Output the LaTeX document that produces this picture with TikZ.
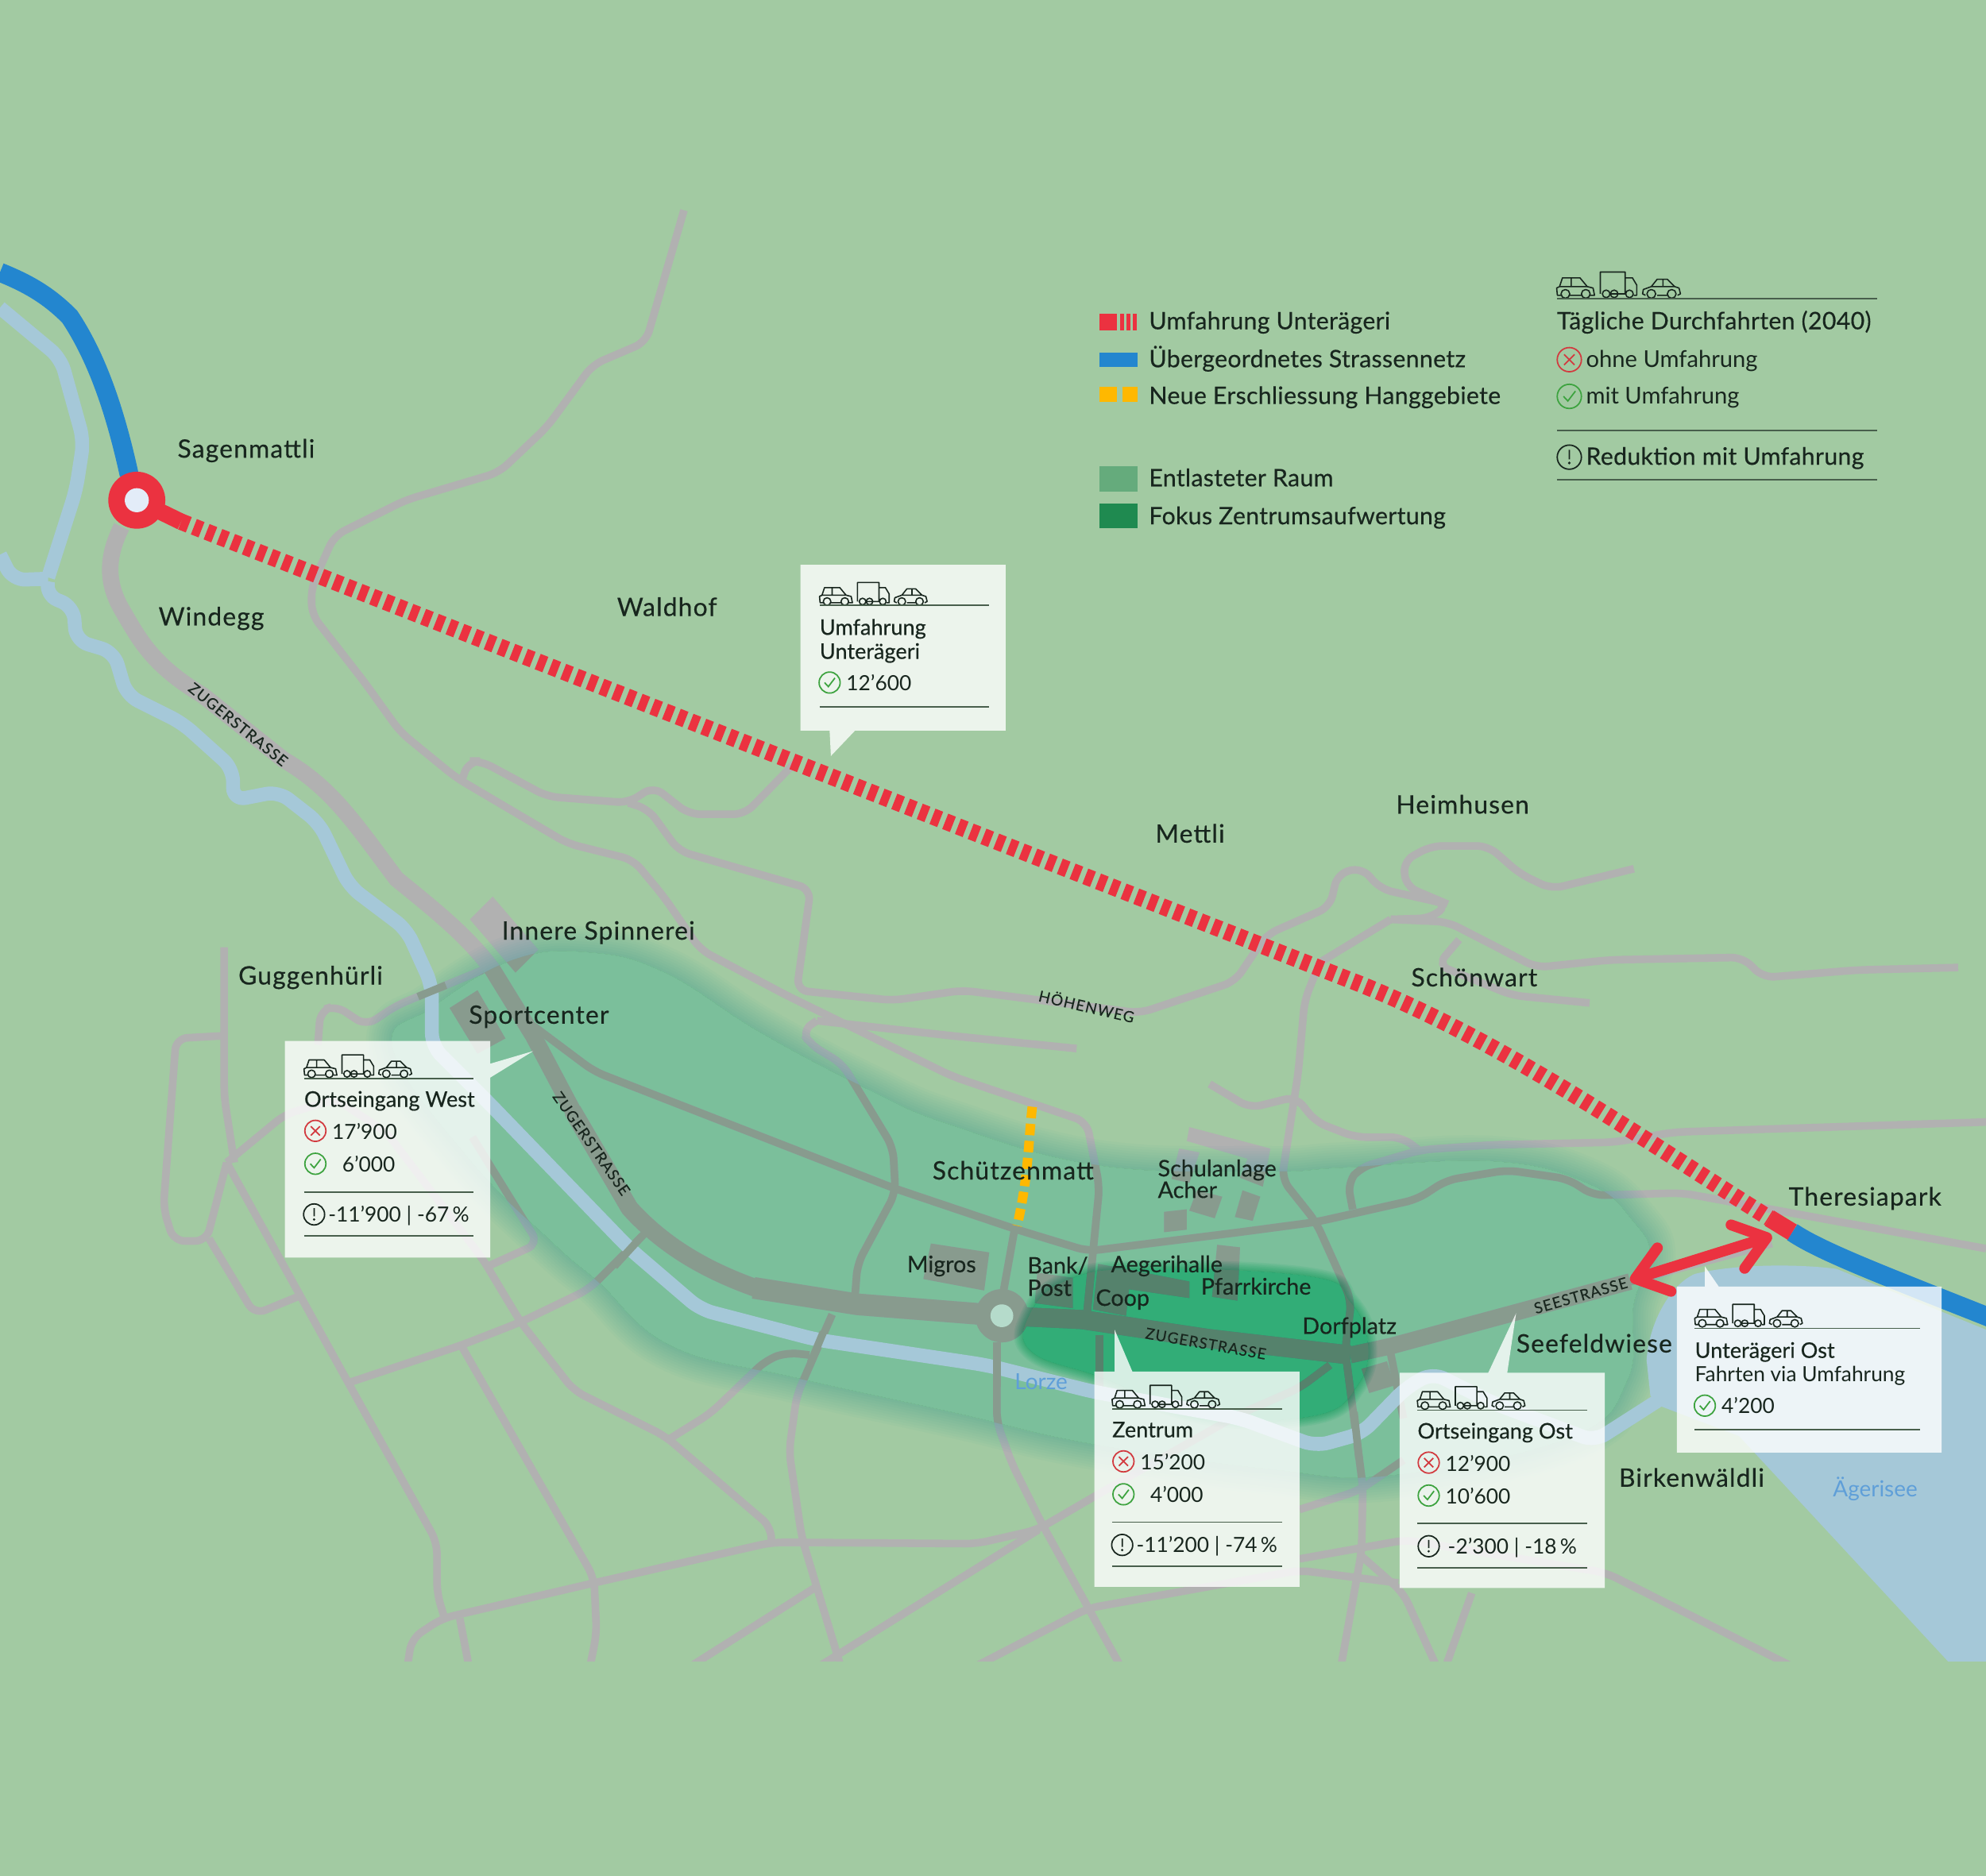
\documentclass[tikz,border=0pt]{standalone}
\usepackage{fontspec}
\setmainfont{Lato}
\newfontfamily\labelfont[RawFeature={embolden=0.35},LetterSpace=3.5]{Lato}
\newfontfamily\placefont[RawFeature={embolden=0.35}]{Lato}
\newfontfamily\legendfont[RawFeature={embolden=0.35},LetterSpace=1]{Lato}
\newfontfamily\streetfont[RawFeature={embolden=0.2},LetterSpace=6]{Lato}
\usetikzlibrary{calc,arrows.meta}
\definecolor{bggreen}{HTML}{A2CAA2}
\definecolor{roadgray}{HTML}{B1B1B1}
\definecolor{bridgegray}{HTML}{889B8E}
\definecolor{focusgray}{HTML}{55826C}
\definecolor{waterblue}{HTML}{A5C8D8}
\definecolor{redroad}{HTML}{EB3240}
\definecolor{blueroad}{HTML}{2386CF}
\definecolor{yellowroad}{HTML}{FFB800}
\definecolor{tintrelief}{HTML}{C3F2F4}
\definecolor{tintfocus}{HTML}{69E7C5}
\definecolor{swatchrelief}{HTML}{65AB7C}
\definecolor{swatchfocus}{HTML}{1F8A50}
\definecolor{roundinner}{HTML}{B5DBCB}
\definecolor{sageninner}{HTML}{E3ECF8}
\definecolor{inktext}{HTML}{18261E}
\definecolor{markred}{HTML}{D23A3F}
\definecolor{markgreen}{HTML}{3DA33F}
\definecolor{waterlabel}{HTML}{5F9FD8}
\tikzset{
	roadthin/.style={draw=roadgray, line width=6pt, rounded corners=9pt},
	roadmain/.style={draw=roadgray, line join=round},
	bridge/.style={draw=bridgegray, line width=6pt},
	building/.style={fill=roadgray},
	river/.style={draw=waterblue, line width=11pt, rounded corners=10pt, line join=round},
	maplabel/.style={anchor=west, inner sep=0pt, text height=18pt, text depth=3.2pt, text=inktext, font=\labelfont\fontsize{20}{20}\selectfont},
	smalllabel/.style={anchor=west, inner sep=0pt, text height=16.2pt, text depth=2.9pt, text=inktext, font=\placefont\fontsize{18}{18}\selectfont},
	legendlabel/.style={anchor=west, inner sep=0pt, text height=17pt, text depth=3pt, text=inktext, font=\legendfont\fontsize{19}{19}\selectfont},
	legendtext/.style={anchor=west, inner sep=0pt, text height=16.5pt, text depth=2.9pt, text=inktext, font=\fontsize{18.3}{19}\selectfont},
	streetlabel/.style={inner sep=0pt, text=inktext, font=\streetfont\fontsize{12}{12}\selectfont},
	waterlab/.style={anchor=west, inner sep=0pt, text height=15.8pt, text depth=2.8pt, text=waterlabel, font=\fontsize{17.5}{18}\selectfont},
	cardbox/.style={fill=white, fill opacity=0.8},
	cardrule/.style={draw=inktext!65!bggreen, line width=1.1pt},
	cardtitle/.style={anchor=west, inner sep=0pt, text height=15.3pt, text depth=2.7pt, text=inktext, font=\placefont\fontsize{17}{18}\selectfont},
	cardtext/.style={anchor=west, inner sep=0pt, text height=14.9pt, text depth=2.7pt, text=inktext, font=\fontsize{16.5}{18}\selectfont},
	vehicles/.pic={
		\draw[inktext, line width=1pt, line join=round, fill=none]
			(3,-2)--(0.5,-2)--(0,-7)--(2,-8)--(4,-14)--(16,-14)--(21,-8)--(25,-7)--(26,-2)--(23,-2)
			(9,-2)--(17,-2) (2,-8)--(21,-8) (10,-14)--(10,-8)
			(6,-3) circle (3) (20,-3) circle (3)
			(30,-3)--(30,-18)--(47,-18)--(47,-3) (47,-14)--(52,-14)--(55,-9)--(55,-2)--(53,-2)
			(37,-3)--(47,-3)
			(34,-3) circle (2.6) (39.5,-3) circle (2.6) (50,-3) circle (2.6)
			(61,-2)--(59,-3)--(59.5,-6)--(65,-8)--(69,-13)--(76,-13)--(81,-8)--(84,-7)--(85,-3)--(83,-2)
			(69,-2)--(76,-2) (65,-8)--(81,-8) (73,-13)--(73,-8)
			(65,-3) circle (3) (79,-3) circle (3);
	},
	crossmark/.pic={
		\draw[markred, line width=1.1pt] (0,0) circle (8.3) (-3.6,-3.6)--(3.6,3.6) (-3.6,3.6)--(3.6,-3.6);
	},
	checkmark/.pic={
		\draw[markgreen, line width=1.1pt] (0,0) circle (8.3);
		\draw[markgreen, line width=1.1pt] (-4,0)--(-1,3.2)--(4.2,-3.6);
	},
	warnmark/.pic={
		\draw[inktext, line width=1.1pt] (0,0) circle (8.3) (0,-5)--(0,1.5);
		\fill[inktext] (0,4) circle (1);
	}
}
\def\reliefpath{plot[smooth cycle, tension=0.7] coordinates {(310,828) (342,795) (405,758) (465,752) (525,768) (600,815) (685,860) (750,888) (866,920) (1000,925) (1060,922) (1180,917) (1255,935) (1290,965) (1303,992) (1290,1030) (1285,1090) (1240,1135) (1100,1165) (1000,1160) (860,1140) (755,1116) (628,1088) (530,1063) (472,1012) (437,982) (370,915)}}
\def\focuspath{plot[smooth cycle, tension=0.7] coordinates {(812,1040) (840,1012) (900,1002) (1035,1008) (1066,1028) (1080,1060) (1072,1094) (1038,1118) (950,1118) (870,1088) (815,1068)}}
\newcommand{\maproads}{
	\draw[roadthin] (540,166)--(510,270)--(468,288)--(432,337)--(394,373)--(320,395)--(264,423)--(246,463)--(246,485)--(288,539)--(316,578)--(360,614)--(448,666)--(500,679)--(524,708)--(553,750)--(621,786)--(752,850)--(858,886)--(868,937)--(858,1039);
	\draw[roadthin] (364,618)--(370,601)--(380,601)--(432,629)--(496,634)--(516,621)--(544,643)--(588,643)--(627,603);
	\draw[roadthin] (496,634)--(512,639)--(536,672)--(640,702)--(629,782)--(705,790)--(760,782)--(900,800)--(975,775)--(1000,738)--(1050,716)--(1056,690)--(1075,685)--(1090,702)--(1143,714)--(1130,725)--(1098,726);
	\draw[roadthin] (1290,686)--(1225,702)--(1200,690)--(1175,668)--(1130,668)--(1108,680)--(1110,700)--(1143,714);
	\draw[roadthin] (1098,726)--(1143,728)--(1213,764)--(1271,758)--(1376,756)--(1392,772)--(1466,766)--(1546,764);
	\draw[roadthin] (1152,742)--(1135,762)--(1194,786)--(1255,792);
	\draw[roadthin] (645,806)--(633,814)--(640,825)--(665,840)--(705,906)--(707,942)--(677,998)--(675,1024);
	\draw[roadthin] (645,806)--(752,818)--(850,828);
	\draw[roadthin] (421,810)--(469,846)--(705,938)--(803,971)--(859,988)--(979,973)--(1039,965)--(1119,947)--(1142,932)--(1190,924)--(1238,931)--(1258,944)--(1328,942)--(1415,958)--(1568,986);
	\draw[roadthin] (1068,955)--(1064,934)--(1074,922)--(1122,908)--(1179,904)--(1274,902)--(1322,894)--(1568,886);
	\draw[roadthin] (955,856)--(987,875)--(1023,866)--(1039,886)--(1070,898)--(1107,898)--(1120,908);
	\draw[roadthin] (1042,760)--(1030,790)--(1025,847)--(1012,931)--(1039,965)--(1067,1027)--(1062,1066)--(1076,1174)--(1075,1225)--(1058,1320);
	\draw[roadthin] (1042,760)--(1098,726);
	\draw[roadthin] (801,971)--(792,1021);
	\draw[roadthin] (177,748)--(177,866)--(185,918);
	\draw[roadthin] (175,818)--(139,820)--(129,954)--(137,980)--(163,980)--(179,918);
	\draw[roadthin] (165,978)--(201,1038)--(235,1024);
	\draw[roadthin] (179,918)--(275,1092)--(345,1218)--(345,1258)--(351,1278);
	\draw[roadthin] (179,918)--(225,880)--(265,868)--(305,894)--(381,994)--(411,1044)--(453,1098)--(525,1134)--(609,1206)--(609,1218);
	\draw[roadthin] (373,898)--(425,982)--(385,1000);
	\draw[roadthin] (275,1092)--(365,1062)--(411,1044)--(465,1018)--(511,972);
	\draw[roadthin] (365,1064)--(469,1246)--(471,1290)--(465,1320);
	\draw[roadthin] (321,1320)--(325,1294)--(349,1278)--(469,1250)--(609,1218)--(633,1218)--(771,1219)--(819,1208)--(867,1180)--(978,1117)--(1026,1096)--(1050,1078);
	\draw[roadthin] (363,1278)--(371,1320);
	\draw[roadthin] (529,1136)--(561,1116)--(605,1074)--(621,1068)--(639,1070);
	\draw[roadthin] (657,1038)--(629,1102)--(623,1146)--(633,1214)--(665,1320);
	\draw[roadthin] (643,1254)--(545,1316);
	\draw[roadthin] (640,1320)--(820,1208);
	\draw[roadthin] (787,1060)--(787,1123)--(799,1156)--(823,1204)--(887,1320);
	\draw[roadthin] (770,1316)--(859,1270)--(1026,1240)--(1104,1250);
	\draw[roadthin] (1074,1228)--(1108,1258)--(1136,1320);
	\draw[roadthin] (1162,1258)--(1140,1320);
	\draw[roadthin] (1026,1192)--(1073,1177)--(1108,1153);
	\draw[roadthin] (1026,1231)--(1110,1216)--(1268,1242)--(1415,1316);
	\draw[roadthin] (868,1054)--(868,1095);
	\draw[roadthin] (251,825)--(253,798)--(265,794)--(289,810)--(313,794)--(381,766);
	\draw[roadthin] (1098,1069)--(1108,1120);
	% main road
	\draw[roadmain, line width=13pt] (96,416) .. controls (84,440) and (84,460) .. (96,481) .. controls (110,505) and (120,525) .. (160,549) -- (224,600) .. controls (262,622) and (280,650) .. (313,694) .. controls (345,720) and (370,740) .. (389,766) -- (421,818) -- (457,886);
	\draw[roadmain, line width=14pt] (452,877) -- (497,954) .. controls (525,985) and (560,1005) .. (605,1020);
	\draw[roadmain, line width=17pt] (595,1017) -- (677,1030) -- (791,1039);
	\draw[roadmain, line width=15pt] (791,1039) -- (854,1042) -- (954,1057) -- (1066,1070);
	\draw[roadmain, line width=13pt] (1066,1070) -- (1098,1063) -- (1287,1012);
	\draw[roadmain, line width=6pt] (1280,1014) -- (1399,982);
	\fill[roadgray] (791,1039) circle (21);
	% buildings
	\fill[building] (735,982)--(781,989)--(777,1019)--(729,1010)--cycle;
	\fill[building] (819,1005)--(847,1009)--(847,1033)--(817,1029)--cycle;
	\fill[building] (867,998)--(893,1003)--(889,1039)--(863,1034)--cycle;
	\fill[building] (893,1003)--(939,1012)--(939,1025)--(891,1018)--cycle;
	\fill[building] (961,983)--(979,985)--(977,1027)--(957,1024)--cycle;
	\fill[building] (939,890)--(1003,907)--(997,937)--(979,930)--(985,915)--(937,901)--cycle;
	\fill[building] (931,907)--(947,910)--(939,934)--(925,931)--cycle;
	\fill[building] (945,940)--(965,945)--(959,962)--(939,956)--cycle;
	\fill[building] (981,940)--(995,945)--(989,964)--(975,961)--cycle;
	\fill[building] (919,957)--(937,955)--(937,971)--(919,973)--cycle;
	\fill[building] (1075,1081)--(1095,1075)--(1101,1094)--(1081,1100)--cycle;
	\fill[building] (389,708)--(425,750)--(407,768)--(371,726)--cycle;
	\fill[building] (377,782)--(399,820)--(377,832)--(355,796)--cycle;
}
\begin{document}
\begin{tikzpicture}[x=1pt, y=-1pt]
	\useasboundingbox (0,0) rectangle (1568,1481.4);
	\fill[bggreen] (0,0) rectangle (1568,1481.4);

	\begin{scope}
	\clip (0,0) rectangle (1568,1312);
	\maproads
	% relief areas
	\begin{scope}[even odd rule]
		\clip (-10,-10) rectangle (1600,1500) \reliefpath;
		\foreach \w in {40,36,...,4}
			\draw[tintrelief, opacity=0.11, blend mode=multiply, line width=\w pt, line join=round] \reliefpath;
	\end{scope}
	\fill[tintrelief, blend mode=multiply] \reliefpath;
	\begin{scope}
		\clip \reliefpath;
		\colorlet{roadgray}{bridgegray}
		\maproads
	\end{scope}
	\begin{scope}[even odd rule]
		\clip (-10,-10) rectangle (1600,1500) \focuspath;
		\foreach \w in {14,12,...,2}
			\draw[tintfocus, opacity=0.15, blend mode=multiply, line width=\w pt, line join=round] \focuspath;
	\end{scope}
	\fill[tintfocus, blend mode=multiply] \focuspath;
	\begin{scope}
		\clip \focuspath;
		\colorlet{roadgray}{focusgray}
		\maproads
	\end{scope}
	% water
	\fill[waterblue] (1300,1074) .. controls (1302,1045) and (1318,1015) .. (1338,1006) .. controls (1370,998) and (1420,998) .. (1450,1002) -- (1568,1050) -- (1568,1312) -- (1538,1312) -- (1373,1134) -- (1310,1110) -- (1303,1102) -- cycle;
	\draw[river] (0,243)--(48,283)--(66,348)--(60,387)--(38,456);
	\draw[river] (0,438)--(10,458)--(38,457);
	\draw[river] (38,459)--(36,470)--(58,479)--(60,506)--(90,515)--(100,549)--(144,571)--(184,607)--(184,632)--(220,625)--(252,650)--(276,700)--(321,734)--(341,778)--(341,826)--(385,870)--(497,986)--(553,1034)--(645,1058)--(779,1078)--(863,1099)--(979,1120)--(1039,1142)--(1075,1132)--(1110,1096)--(1131,1084)--(1179,1108)--(1259,1138)--(1309,1106);
	% roads on bridges
	\draw[bridge] (507,976)--(485,1000);
	\draw[bridge] (650,1052)--(640,1076);
	\draw[bridge] (787,1060)--(787,1095);
	\draw[bridge] (1069,1115)--(1073,1152);
	\draw[bridge] (330,787)--(352,778);
	\fill[roundinner] (791,1039) circle (9);
	% main routes
	\coordinate (sagen) at (108,395);
	\coordinate (redstart) at (143,412);
	\coordinate (redend) at (1397,962);
	\coordinate (redstub) at (1415,973);
	\draw[blueroad, line width=15pt] (0,215) .. controls (25,225) and (40,235) .. (55,250) .. controls (75,280) and (90,320) .. (102,375);
	\draw[blueroad, line width=15pt] (redstub) .. controls (1440,990) and (1500,1012) .. (1600,1052);
	\draw[redroad, line width=13pt, dash pattern=on 6.5pt off 4.3pt] (redstart) -- (1066,774) .. controls (1180,818) and (1295,898) .. (redend);
	\draw[redroad, line width=13pt] (sagen) -- (redstart);
	\draw[redroad, line width=14pt] (redend) -- (redstub);
	\fill[redroad] (sagen) circle (22.5);
	\fill[sageninner] (sagen) circle (9.5);
	\draw[yellowroad, line width=7.5pt, dash pattern=on 9pt off 4.5pt] (815,874) .. controls (812,900) and (812,930) .. (803,968);
	\coordinate (arrowleft) at (1287,1011);
	\coordinate (arrowright) at (1399,976);
	\draw[{Straight Barb[length=24pt,width=36pt,round]}-{Straight Barb[length=24pt,width=36pt,round]}, redroad, line width=8.5pt, line cap=round] (arrowleft) -- (arrowright);
	\end{scope}

	% map labels
	\foreach \nm/\px/\py/\txt in {a/140/354/Sagenmattli, b/125/486.5/Windegg, c/487/479/Waldhof, d/1102/635/Heimhusen, e/912/658/Mettli, f/1114/771.5/Schönwart, g/396/734.6/Innere Spinnerei, h/188/770/Guggenhürli, i/370/801/Sportcenter, j/736/924/Schützenmatt, k/1197/1060.6/Seefeldwiese, l/1278/1166.6/Birkenwäldli, m/1412/944.6/Theresiapark}
		\node[maplabel] (lab\nm) at (\px,\py) {\txt};
	\foreach \nm/\px/\py/\txt in {a/914/922.3/Schulanlage, b/914/939.3/Acher, c/716/998/Migros, d/811/999/{Bank/}, e/811/1016.7/Post, f/877/998/Aegerihalle, g/865/1024.5/Coop, h/948/1015.6/Pfarrkirche, i/1028/1046.7/Dorfplatz}
		\node[smalllabel] (place\nm) at (\px,\py) {\txt};
	\node[streetlabel, rotate=-39] (zuger1) at (188,572) {ZUGERSTRASSE};
	\node[streetlabel, rotate=-55] (zuger2) at (467,903) {ZUGERSTRASSE};
	\node[streetlabel, rotate=-10] (zuger3) at (952,1061) {ZUGERSTRASSE};
	\node[streetlabel, rotate=16] (seestr) at (1248,1023) {SEESTRASSE};
	\node[streetlabel, rotate=-13] (hoehen) at (858,794) {HÖHENWEG};
	\node[waterlab] (lorze) at (801,1090.5) {Lorze};
	\node[waterlab] (aegerisee) at (1447,1175.5) {Ägerisee};

	% legend
	\fill[redroad] (868,248) rectangle (882,261);
	\foreach \px in {884.5,889.5,894.5}
		\fill[redroad] (\px,248) rectangle (\px+3,261);
	\fill[blueroad] (868,278.5) rectangle (898,290);
	\fill[yellowroad] (868,305.5) rectangle (882,317.5);
	\fill[yellowroad] (886,305.5) rectangle (898,317.5);
	\fill[swatchrelief] (868,368) rectangle (898,388);
	\fill[swatchfocus] (868,397.5) rectangle (898,417);
	\foreach \nm/\py/\txt in {a/253/Umfahrung Unterägeri, b/283/Übergeordnetes Strassennetz, c/312/Neue Erschliessung Hanggebiete, d/377/Entlasteter Raum, e/407/Fokus Zentrumsaufwertung}
		\node[legendlabel] (leg\nm) at (907,\py) {\txt};
	\pic[scale=1.15] at (1229,235.5) {vehicles};
	\draw[cardrule] (1229,236)--(1482,236);
	\node[legendlabel] (legtitle) at (1229,253) {Tägliche Durchfahrten (2040)};
	\pic[scale=1.15] at (1239,284) {crossmark};
	\node[legendtext] (legohne) at (1252,283) {ohne Umfahrung};
	\pic[scale=1.15] at (1239,313) {checkmark};
	\node[legendtext] (legmit) at (1252,312) {mit Umfahrung};
	\draw[cardrule] (1229,340)--(1482,340);
	\pic[scale=1.15] at (1239,361) {warnmark};
	\node[legendlabel] (legreduk) at (1252,360) {Reduktion mit Umfahrung};
	\draw[cardrule] (1229,379)--(1482,379);

	% cards
	\fill[cardbox] (225,822)--(387,822)--(387,840)--(421,830)--(387,851)--(387,993)--(225,993)--cycle;
	\pic at (240,851) {vehicles};
	\draw[cardrule] (240,851.5)--(374,851.5);
	\node[cardtitle] (westtitle) at (240,867.7) {Ortseingang West};
	\pic at (249,893) {crossmark};
	\node[cardtext] (westohne) at (262,893.6) {17’900};
	\pic at (249,919) {checkmark};
	\node[cardtext] (westmit) at (270,919.5) {6’000};
	\draw[cardrule] (240,941.5)--(374,941.5);
	\pic at (248,959) {warnmark};
	\node[cardtext] (westdiff) at (259,959) {-11’900 | -67\,\%};
	\draw[cardrule] (240,976)--(374,976);

	\fill[cardbox] (632,446)--(794,446)--(794,577)--(675,577)--(656,597)--(655,577)--(632,577)--cycle;
	\pic at (647,478) {vehicles};
	\draw[cardrule] (647,478)--(781,478);
	\node[cardtitle] (umftitle) at (647,495) {Umfahrung};
	\node[cardtitle] (umftitleb) at (647,514) {Unterägeri};
	\pic at (655,539) {checkmark};
	\node[cardtext] (umfmit) at (668,539) {12’600};
	\draw[cardrule] (647,558)--(781,558);

	\fill[cardbox] (864,1083)--(880,1083)--(880,1050)--(894,1083)--(1026,1083)--(1026,1253)--(864,1253)--cycle;
	\pic at (878,1112) {vehicles};
	\draw[cardrule] (878,1112.5)--(1012,1112.5);
	\node[cardtitle] (zentitle) at (878,1128.7) {Zentrum};
	\pic at (887,1154) {crossmark};
	\node[cardtext] (zenohne) at (900,1154.6) {15’200};
	\pic at (887,1180) {checkmark};
	\node[cardtext] (zenmit) at (908,1180.5) {4’000};
	\draw[cardrule] (878,1202)--(1012,1202);
	\pic at (886,1220) {warnmark};
	\node[cardtext] (zendiff) at (897,1220) {-11’200 | -74\,\%};
	\draw[cardrule] (878,1237)--(1012,1237);

	\fill[cardbox] (1105,1084)--(1175,1084)--(1197,1037)--(1190,1084)--(1267,1084)--(1267,1254)--(1105,1254)--cycle;
	\pic at (1119,1113) {vehicles};
	\draw[cardrule] (1119,1113.5)--(1253,1113.5);
	\node[cardtitle] (osttitle) at (1119,1129.7) {Ortseingang Ost};
	\pic at (1128,1155) {crossmark};
	\node[cardtext] (ostohne) at (1141,1155.6) {12’900};
	\pic at (1128,1181) {checkmark};
	\node[cardtext] (ostmit) at (1141,1181.5) {10’600};
	\draw[cardrule] (1119,1203)--(1253,1203);
	\pic at (1128,1221) {warnmark};
	\node[cardtext] (ostdiff) at (1143,1221) {-2’300 | -18\,\%};
	\draw[cardrule] (1119,1238)--(1253,1238);

	\fill[cardbox] (1324,1016)--(1346,1016)--(1346,1000)--(1357,1016)--(1533,1016)--(1533,1147)--(1324,1147)--cycle;
	\pic at (1338,1048) {vehicles};
	\draw[cardrule] (1338,1049)--(1516,1049);
	\node[cardtitle] (uoetitle) at (1338,1066) {Unterägeri Ost};
	\node[cardtext] (uoesub) at (1338,1085) {Fahrten via Umfahrung};
	\pic at (1346,1110) {checkmark};
	\node[cardtext] (uoemit) at (1359,1110) {4’200};
	\draw[cardrule] (1338,1129)--(1516,1129);
\end{tikzpicture}
\end{document}
